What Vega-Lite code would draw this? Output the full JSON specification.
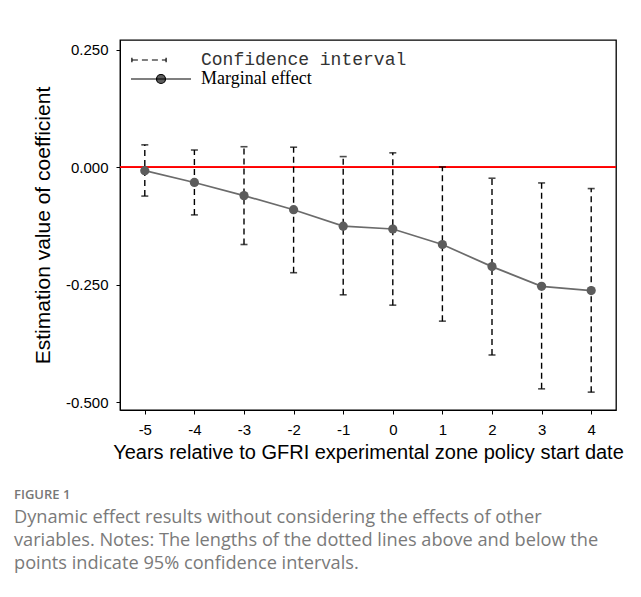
{
  "$schema": "https://vega.github.io/schema/vega-lite/v6.json",
  "autosize": {"type": "none"},
  "padding": {"left": 120, "top": 40, "right": 25, "bottom": 187},
  "width": 496,
  "height": 370,
  "background": "white",
  "config": {
    "view": {"stroke": "black", "strokeWidth": 1.3},
    "axis": {
      "grid": false,
      "domainColor": "black",
      "tickColor": "black",
      "tickSize": 4,
      "labelFont": "Liberation Sans",
      "labelFontSize": 15,
      "labelColor": "black",
      "titleFont": "Liberation Sans",
      "titleFontSize": 20,
      "titleFontWeight": "normal",
      "titleColor": "black"
    }
  },
  "title": {
    "text": "FIGURE 1",
    "subtitle": [
      "Dynamic effect results without considering the effects of other",
      "variables. Notes: The lengths of the dotted lines above and below the",
      "points indicate 95% confidence intervals."
    ],
    "orient": "bottom",
    "anchor": "start",
    "frame": "group",
    "dx": -106,
    "offset": 27,
    "font": "Open Sans",
    "fontSize": 13,
    "fontWeight": 600,
    "color": "#777777",
    "subtitleFont": "Open Sans",
    "subtitleFontSize": 18.2,
    "subtitleColor": "#7a7a7a",
    "subtitleLineHeight": 23,
    "subtitlePadding": 7
  },
  "data": {
    "values": [
      {"year": -5, "est": -0.007, "lo": -0.061, "hi": 0.048},
      {"year": -4, "est": -0.032, "lo": -0.101, "hi": 0.037},
      {"year": -3, "est": -0.060, "lo": -0.164, "hi": 0.044},
      {"year": -2, "est": -0.090, "lo": -0.224, "hi": 0.043},
      {"year": -1, "est": -0.125, "lo": -0.271, "hi": 0.023},
      {"year": 0, "est": -0.131, "lo": -0.293, "hi": 0.031},
      {"year": 1, "est": -0.164, "lo": -0.327, "hi": 0.001},
      {"year": 2, "est": -0.211, "lo": -0.399, "hi": -0.023},
      {"year": 3, "est": -0.253, "lo": -0.471, "hi": -0.033},
      {"year": 4, "est": -0.262, "lo": -0.478, "hi": -0.045}
    ]
  },
  "encoding": {
    "x": {
      "field": "year",
      "type": "quantitative",
      "scale": {"domain": [-5.5, 4.5], "nice": false, "zero": false},
      "axis": {"values": [-5, -4, -3, -2, -1, 0, 1, 2, 3, 4], "labelPadding": 8, "titlePadding": 5, "title": "Years relative to GFRI experimental zone policy start date", "labelExpr": "'' + datum.value"}
    }
  },
  "layer": [
    {
      "mark": {"type": "rule", "color": "#ff0000", "strokeWidth": 1.2},
      "encoding": {
        "x": null,
        "y": {"datum": 0, "type": "quantitative"}
      }
    },
    {
      "mark": {"type": "rule", "color": "black", "strokeWidth": 1.4},
      "encoding": {
        "y": {
          "field": "lo",
          "type": "quantitative",
          "scale": {"domain": [-0.516, 0.271], "nice": false, "zero": false},
          "axis": {"values": [-0.5, -0.25, 0, 0.25], "format": ".3f", "labelExpr": "replace(datum.label, '\u2212', '-')", "labelPadding": 8, "titlePadding": 12, "titleFontSize": 21, "title": "Estimation value of coefficient"}
        },
        "y2": {"field": "hi"},
        "strokeDash": {
          "datum": "Confidence interval",
          "scale": {"range": [[6, 4]]},
          "legend": {
            "title": null,
            "orient": "none",
            "legendX": 10,
            "legendY": 12,
            "symbolType": "M-0.97,-0.075V0.075M-0.97,0H0.17M0.17,-0.075V0.075",
            "symbolSize": 3600,
            "symbolStrokeWidth": 1.2,
            "symbolStrokeColor": "black",
            "symbolDash": [4, 3],
            "clipHeight": 16,
            "labelFont": "Liberation Mono",
            "labelFontSize": 18,
            "labelColor": "#333333",
            "labelOffset": 9,
            "labelLimit": 400
          }
        }
      }
    },
    {
      "mark": {"type": "point", "shape": "M-1,0H1", "size": 49, "filled": false, "color": "black", "strokeWidth": 1.6},
      "encoding": {"y": {"field": "hi", "type": "quantitative"}}
    },
    {
      "mark": {"type": "point", "shape": "M-1,0H1", "size": 49, "filled": false, "color": "black", "strokeWidth": 1.6},
      "encoding": {"y": {"field": "lo", "type": "quantitative"}}
    },
    {
      "mark": {"type": "line", "color": "#6b6b6b", "strokeWidth": 1.7},
      "encoding": {"y": {"field": "est", "type": "quantitative"}}
    },
    {
      "mark": {"type": "point", "filled": true, "size": 85, "opacity": 1},
      "encoding": {
        "y": {"field": "est", "type": "quantitative"},
        "color": {
          "datum": "Marginal effect",
          "scale": {"range": ["#5c5c5c"]},
          "legend": {
            "title": null,
            "orient": "none",
            "legendX": 10,
            "legendY": 31,
            "symbolType": "M-1,0H1M0.15,0A0.15,0.15,0,1,1,-0.15,0A0.15,0.15,0,1,1,0.15,0Z",
            "symbolSize": 3600,
            "symbolFillColor": "#5c5c5c",
            "symbolStrokeColor": "black",
            "symbolStrokeWidth": 1.2,
            "clipHeight": 16,
            "labelFont": "Liberation Serif",
            "labelFontSize": 18,
            "labelColor": "black",
            "labelOffset": 9,
            "labelLimit": 400,
            "encode": {
              "symbols": {
                "update": {
                  "fill": {"value": "#5c5c5c"},
                  "stroke": {"value": "black"},
                  "strokeWidth": {"value": 1.2},
                  "opacity": {"value": 1}
                }
              }
            }
          }
        }
      }
    }
  ]
}
